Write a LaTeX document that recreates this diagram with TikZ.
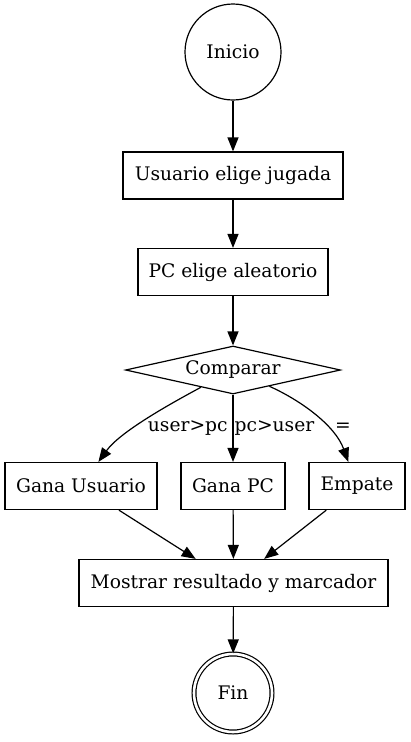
\documentclass[tikz,border=0pt]{standalone}
\usepackage{fontspec}
\setmainfont{DejaVu Serif}
\usetikzlibrary{shapes.geometric,arrows.meta}
\tikzset{
  caja/.style={draw, rectangle, minimum height=47pt, inner sep=6pt},
  flecha/.style={-{Triangle[length=14pt,width=11pt]}},
  etiqueta/.style={anchor=west, inner sep=0pt},
}
\begin{document}
\begin{tikzpicture}[x=1pt, y=1pt, line width=1.2pt, font=\fontsize{18.67}{22}\selectfont]
  \useasboundingbox (0,0) rectangle (411,-742);
  % Inicio y pasos:
  \node[draw, circle, minimum size=96pt, inner sep=0pt] (inicio) at (233,-52) {Inicio};
  \node[caja, minimum width=220pt] (usuario) at (233,-175.5) {Usuario elige jugada};
  \node[caja, minimum width=190pt] (pc) at (233,-272) {PC elige aleatorio};
  \node[draw, diamond, aspect=4.5, minimum width=215pt, minimum height=48pt, inner sep=0pt] (comparar) at (233,-370) {Comparar};
  % resultados:
  \node[caja, minimum width=152pt] (ganaU) at (81,-486) {Gana Usuario};
  \node[caja, minimum width=104pt] (ganaPC) at (233,-486) {Gana PC};
  \node[caja, minimum width=96pt] (empate) at (357,-486) {Empate};
  \node[caja, minimum width=309pt] (mostrar) at (233.5,-583) {Mostrar resultado y marcador};
  \node[draw, circle, double, double distance=2.6pt, minimum size=78pt, inner sep=0pt] (fin) at (233,-693) {Fin};
  % flechas:
  \draw[flecha] (inicio) -- (usuario);
  \draw[flecha] (usuario) -- (pc);
  \draw[flecha] (pc) -- (comparar);
  \draw[flecha] (comparar) .. controls (168,-405) and (120,-432) .. node[etiqueta, pos=0.6, xshift=13pt] {user>pc} (ganaU);
  \draw[flecha] (comparar) -- node[etiqueta, xshift=1pt] {pc>user} (ganaPC);
  \draw[flecha] (comparar) .. controls (300,-400) and (335,-425) .. node[etiqueta, pos=0.65, xshift=7pt] {=} (empate);
  \draw[flecha] (ganaU) -- (mostrar);
  \draw[flecha] (ganaPC) -- (mostrar);
  \draw[flecha] (empate) -- (mostrar);
  \draw[flecha] (mostrar) -- (fin);
\end{tikzpicture}
\end{document}
